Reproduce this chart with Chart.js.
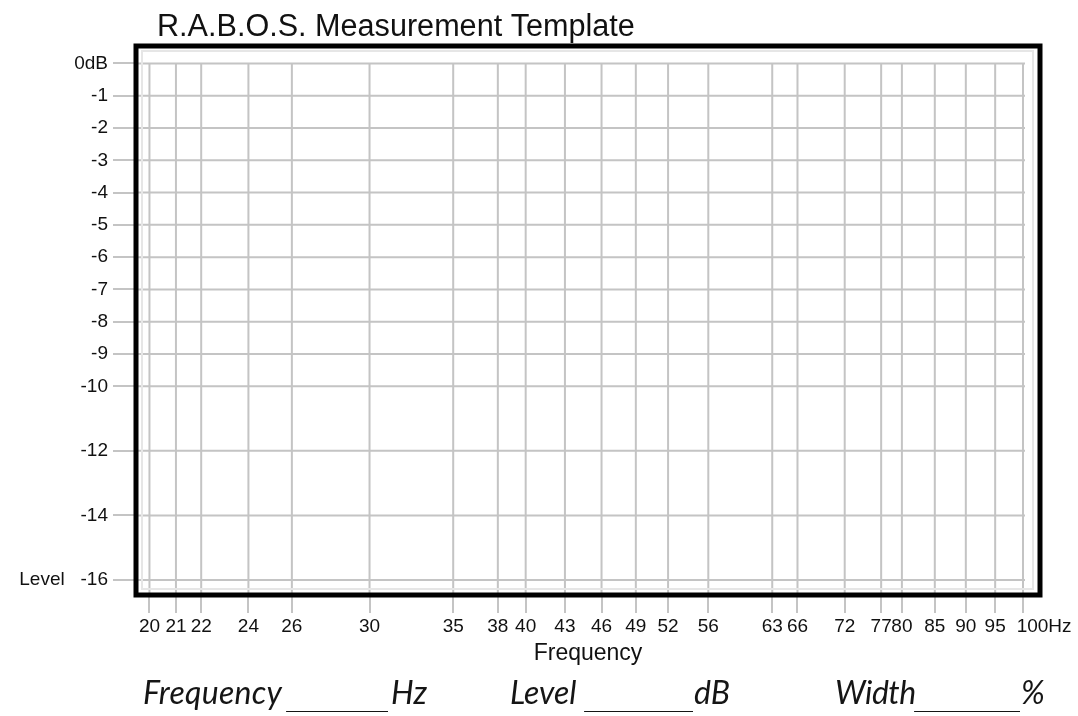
<!DOCTYPE html>
<html><head><meta charset="utf-8">
<script src="https://cdn.jsdelivr.net/npm/chart.js@4.4.0/dist/chart.umd.min.js"></script>
<style>
html,body{margin:0;padding:0;background:#fff;}
#wrap{position:relative;width:1078px;height:716px;overflow:hidden;background:#fff;}
canvas{position:absolute;left:0;top:0;}
.f{position:absolute;top:676px;font-family:Lato,"Open Sans",sans-serif;font-style:italic;font-size:32px;line-height:32px;color:#151515;white-space:nowrap;}
.u{overflow:hidden;display:block;top:680px;letter-spacing:-5px;font-style:normal;}
</style></head><body>
<div id="wrap">
<canvas id="c" width="1078" height="716"></canvas>
<span class="f" style="left:143px;letter-spacing:0.3px">Frequency</span>
<span class="f u" style="left:285px;width:103px">____________________</span>
<span class="f" style="left:391px">Hz</span>
<span class="f" style="left:510px">Level</span>
<span class="f u" style="left:583px;width:110px">____________________</span>
<span class="f" style="left:694px">dB</span>
<span class="f" style="left:835px;letter-spacing:-0.5px">Width</span>
<span class="f u" style="left:913px;width:107px">____________________</span>
<span class="f" style="left:1021px">%</span>
</div>
<script>
// ---- data ----
const chartTitle = 'R.A.B.O.S. Measurement Template';
const xAxisTitle = 'Frequency';
const xTicks = [20,21,22,24,26,30,35,38,40,43,46,49,52,56,63,66,72,77,80,85,90,95,100];
const xTickLabels = ['20','21','22','24','26','30','35','38','40','43','46','49','52','56','63','66','72','77','80','85','90','95','        100Hz'];
const yTicks = [0,-1,-2,-3,-4,-5,-6,-7,-8,-9,-10,-12,-14,-16];
const yTickLabels = ['0dB','-1','-2','-3','-4','-5','-6','-7','-8','-9','-10','-12','-14','Level   -16'];
const seriesData = []; // blank measurement template: no data points

const GRID = '#c4c4c4';
const FONT = '"Liberation Sans", Arial, sans-serif';
const TXT = '#111111';

const templatePlugin = {
  id: 'template',
  beforeDatasetsDraw(chart) {
    const {ctx, chartArea: a, scales: {x, y}} = chart;
    ctx.save();
    ctx.strokeStyle = GRID;
    ctx.lineWidth = 2;
    const xEnd = x.getPixelForValue(xTicks[xTicks.length - 1]);
    const yTop = y.getPixelForValue(yTicks[0]);
    ctx.beginPath();
    yTicks.forEach(v => { const py = y.getPixelForValue(v); ctx.moveTo(a.left, py); ctx.lineTo(xEnd + 2, py); });
    xTicks.forEach(v => { const px = x.getPixelForValue(v); ctx.moveTo(px, yTop - 1); ctx.lineTo(px, a.bottom); });
    ctx.stroke();
    ctx.strokeStyle = '#e6e6e6';
    ctx.lineWidth = 2;
    ctx.strokeRect(a.left + 6, a.top + 5, a.width - 13, a.height - 11);
    ctx.restore();
  },
  afterDraw(chart) {
    const {ctx, chartArea: a} = chart;
    ctx.save();
    ctx.strokeStyle = '#000';
    ctx.lineWidth = 5;
    ctx.strokeRect(a.left, a.top, a.width, a.height);
    ctx.fillStyle = TXT;
    ctx.font = '30.6px ' + FONT;
    ctx.textAlign = 'left';
    ctx.textBaseline = 'alphabetic';
    ctx.fillText(chartTitle, 157, 36);
    ctx.restore();
  }
};

new Chart(document.getElementById('c'), {
  type: 'scatter',
  data: { datasets: [{ data: seriesData, pointRadius: 0 }] },
  options: {
    responsive: false,
    animation: false,
    events: [],
    layout: { autoPadding: false, padding: { left: 0, top: 46, right: 38, bottom: 49 } },
    plugins: { legend: { display: false }, tooltip: { enabled: false }, title: { display: false } },
    scales: {
      x: {
        type: 'logarithmic',
        min: 19.51, max: 103.18,
        afterBuildTicks(s) { s.ticks = xTicks.map(v => ({ value: v })); },
        afterFit(s) { s.height = 72; },
        border: { display: false },
        grid: { drawOnChartArea: false, drawTicks: true, tickLength: 18, color: GRID, lineWidth: 2 },
        ticks: {
          autoSkip: false, maxRotation: 0, minRotation: 0, padding: 2,
          color: TXT, font: { family: FONT, size: 19 },
          callback(v, i) { return xTickLabels[i]; }
        },
        title: { display: true, text: xAxisTitle, color: TXT, font: { family: FONT, size: 23 }, padding: { top: 0, bottom: 0 } }
      },
      y: {
        type: 'linear',
        min: -16.465, max: 0.54,
        afterBuildTicks(s) { s.ticks = yTicks.map(v => ({ value: v })); },
        afterFit(s) { s.width = 136; },
        border: { display: false },
        grid: { drawOnChartArea: false, drawTicks: true, tickLength: 23, color: GRID, lineWidth: 2 },
        ticks: {
          autoSkip: false, padding: 5,
          color: TXT, font: { family: FONT, size: 19 },
          callback(v, i) { return yTickLabels[i]; }
        }
      }
    }
  },
  plugins: [templatePlugin]
});
</script>
</body></html>
